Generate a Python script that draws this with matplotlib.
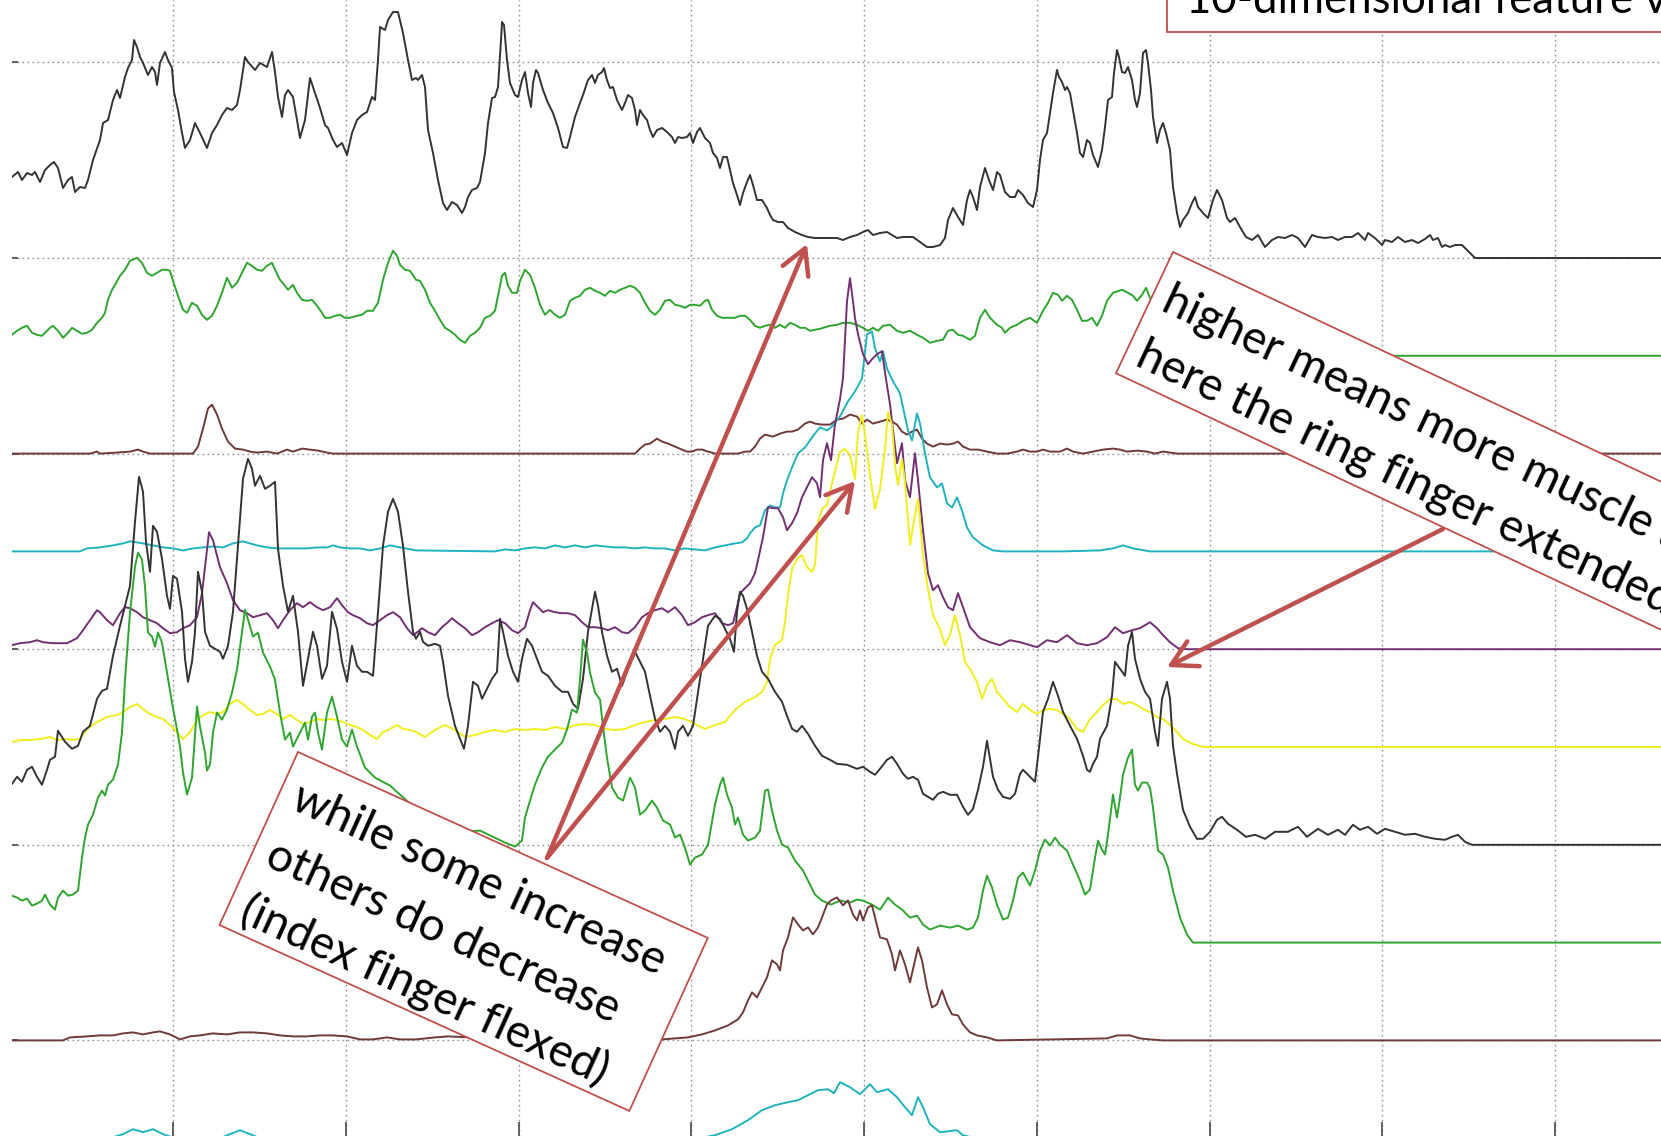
import numpy as np
import matplotlib
matplotlib.use("Agg")
import matplotlib.pyplot as plt
from matplotlib.patches import Rectangle, FancyArrowPatch

# ---- channel traces: (frame, amplitude above channel baseline) ----
BLACK_TOP = [(12,81),(18,86),(22,78),(27,85),(32,83),(35,86),(40,76),(45,88),(50,93),(54,96),(58,90),(63,70),(68,78),(72,81),(75,66),(80,71),(85,70),(88,78),(93,98),(100,118),(103,135),(108,138),(113,158),(117,168),(120,160),(125,181),(128,190),(132,198),(134,218),(137,211),(140,201),(143,195),(148,183),(152,191),(155,186),(157,173),(160,195),(165,206),(168,198),(172,190),(174,166),(178,148),(182,125),(185,110),(190,118),(195,135),(200,125),(207,110),(212,125),(217,133),(222,143),(227,150),(232,148),(237,153),(240,168),(245,201),(248,196),(255,188),(260,195),(267,191),(272,206),(275,186),(278,161),(282,141),(285,163),(288,168),(293,161),(297,138),(300,120),(305,138),(310,180),(315,165),(320,150),(325,133),(328,130),(333,118),(337,111),(342,115),(347,103),(352,125),(357,138),(362,143),(367,146),(372,161),(375,158),(378,198),(380,231),(385,228),(388,238),(393,246),(398,246),(403,225),(408,198),(412,178),(416,180),
             (418,178),(422,183),(425,171),(428,128),(433,105),(438,78),(443,55),(447,48),(452,56),(457,53),(462,45),(465,51),(468,61),(472,68),(477,70),(480,76),(485,105),(488,135),(492,160),(495,161),(498,171),(501,218),(502,236),(504,233),(507,198),(510,175),(515,163),(518,161),(522,178),(525,186),(528,165),(531,151),(533,175),(536,188),(538,185),(543,168),(548,155),(553,145),(558,130),(563,111),(567,110),(570,121),(575,141),(580,155),(583,163),(588,178),(592,183),(595,175),(598,183),(602,186),(604,190),(607,178),(610,170),(613,171),(617,158),(622,148),(625,155),(628,163),(632,160),(635,148),(637,133),(640,148),(643,143),(647,138),(650,128),(653,121),(657,128),(662,130),(667,126),(672,121),(675,115),(678,121),(682,120),(687,121),(690,125),(693,115),(697,126),(700,130),(705,120),(710,115),(713,105),(717,100),(720,90),(723,101),(727,101),(730,88),(733,75),(737,63),(740,53),(743,65),(747,76),(750,83),(753,73),(757,58),(762,58),(767,50),(770,43),(773,38),(778,36),(783,36),(788,30),(795,26),(802,23),(808,21),(815,20),(822,20),(831,20),
             (837,20),(843,18),(850,21),(857,23),(863,26),(868,28),(873,23),(880,25),(887,26),(892,23),(897,20),(903,21),(913,21),(920,16),(927,11),(933,11),(940,13),(945,20),(948,38),(953,50),(958,41),(963,33),(967,58),(970,68),(973,61),(977,48),(980,71),(985,90),(989,78),(993,68),(997,86),(1000,83),(1005,66),(1010,61),(1015,61),(1018,68),(1023,63),(1028,55),(1033,51),(1037,68),(1040,98),(1043,118),(1047,125),(1050,145),(1053,165),(1057,188),(1059,181),(1062,176),(1065,168),(1067,171),(1070,165),(1073,148),(1077,125),(1080,105),(1083,101),(1087,118),(1090,115),(1093,103),(1098,91),(1102,108),(1105,131),(1108,158),(1112,161),(1114,185),(1117,208),(1119,201),(1122,186),(1125,185),(1128,191),(1132,178),(1135,158),(1137,151),(1140,165),(1143,205),(1146,208),(1148,195),(1151,168),(1153,141),(1157,115),(1160,128),(1163,135),(1166,125),(1170,108),(1173,71),(1177,45),(1180,31),(1183,38),(1188,45),(1192,55),(1195,61),(1198,51),(1203,45),(1208,40),(1213,58),(1217,68),(1222,58),(1227,40),(1230,36),(1235,40),(1240,31),(1246,21),
             (1252,18),(1258,23),(1265,11),(1272,18),(1278,21),(1285,20),(1292,23),(1298,20),(1305,11),(1312,23),(1318,21),(1325,20),(1332,21),(1338,18),(1345,21),(1352,21),(1358,25),(1365,18),(1368,25),(1375,20),(1382,13),(1385,18),(1392,16),(1398,21),(1405,16),(1412,18),(1418,15),(1425,19),(1430,23),(1433,18),(1438,20),(1442,11),(1445,13),(1450,11),(1455,13),(1462,13),(1467,8),(1475,0),(1661,0)]

GREEN_TOP = [(12,21),(17,25),(22,28),(27,30),(32,23),(37,21),(42,20),(47,25),(50,28),(53,30),(58,25),(63,18),(68,23),(72,28),(77,25),(82,22),(87,23),(92,26),(97,33),(102,38),(105,43),(108,56),(112,66),(115,71),(120,80),(125,86),(130,95),(137,98),(142,93),(147,83),(152,80),(157,83),(162,86),(167,86),(170,85),(173,75),(178,60),(183,46),(187,43),(192,53),(197,50),(202,41),(207,36),(212,40),(217,50),(222,63),(227,78),(232,68),(237,73),(242,83),(247,93),(252,90),(257,86),(262,85),(267,90),(272,93),(275,86),(280,76),(285,70),(288,66),(293,71),(297,63),(302,56),(307,55),(312,56),(317,50),(322,43),(325,38),(330,38),(335,40),(340,41),(345,38),(350,38),(357,40),(362,41),(367,45),(373,45),(378,53),(383,76),(388,93),(393,105),(397,100),(400,91),(405,86),(410,85),(416,76),
             (420,75),(425,66),(430,53),(435,45),(440,36),(445,28),(450,25),(455,21),(460,16),(465,13),(470,20),(475,23),(480,28),(485,38),(490,40),(495,45),(498,60),(502,80),(505,83),(508,70),(512,63),(517,63),(520,75),(525,86),(530,81),(535,68),(540,51),(545,41),(550,46),(555,41),(560,38),(565,41),(570,55),(575,58),(580,60),(585,66),(590,68),(595,65),(600,63),(605,60),(610,65),(615,63),(620,66),(625,68),(630,70),(635,68),(640,63),(645,53),(650,45),(655,41),(660,46),(665,55),(670,56),(675,51),(680,50),(685,48),(690,51),(695,51),(700,50),(705,55),(708,56),(712,46),(717,40),(722,38),(728,38),(735,38),(740,40),(745,40),(750,36),(755,30),(760,28),(765,30),(770,31),(775,28),(780,31),(785,28),(790,33),(795,31),(800,28),(805,28),(810,25),(820,27),(830,30),
             (837,31),(843,33),(850,33),(857,31),(863,28),(868,25),(873,28),(878,25),(883,30),(890,31),(897,25),(903,23),(910,25),(917,21),(923,18),(930,13),(937,15),(943,16),(948,25),(953,26),(958,21),(963,20),(970,16),(975,20),(980,38),(985,46),(990,38),(997,31),(1002,28),(1005,23),(1010,28),(1017,31),(1023,35),(1030,38),(1037,33),(1043,45),(1048,53),(1053,63),(1058,61),(1062,55),(1067,60),(1072,56),(1077,46),(1082,35),(1087,35),(1092,38),(1097,30),(1102,40),(1107,55),(1113,63),(1122,66),(1128,63),(1133,60),(1137,55),(1142,61),(1146,68),(1150,58),(1160,40),(1172,22),(1185,5),(1195,0),(1661,0)]

BROWN_TOP = [(12,0),(90,0),(97,2),(100,0),(117,1),(130,2),(138,4),(143,2),(150,0),(193,0),(198,7),(203,25),(208,45),(212,49),(217,39),(222,25),(228,12),(235,5),(243,4),(250,2),(257,1),(267,2),(277,0),(287,4),(293,2),(302,5),(310,4),(318,3),(327,1),(333,0),(635,0),(640,5),(645,9),(650,10),(657,15),(662,12),(668,10),(675,7),(682,4),(687,2),(692,2),(697,4),(702,4),(708,2),(715,0),(738,0),(745,2),(750,2),(755,7),(760,15),(765,19),(773,17),(780,20),(787,22),(792,22),(798,24),(805,30),(810,32),(815,30),(822,29),(830,29),(837,34),(843,35),(850,39),(857,37),(862,30),(867,34),(873,30),(880,32),(887,34),(892,32),(897,29),(902,22),(907,19),(912,22),(917,24),(922,15),(927,10),(933,7),(940,10),(947,9),(953,10),(958,12),(963,7),(970,4),(978,4),(987,2),(997,0),(1007,0),(1017,2),(1023,4),(1030,2),(1037,2),(1043,4),(1050,2),(1060,2),(1067,5),(1073,2),(1083,0),(1093,2),(1103,4),(1113,5),(1120,4),(1127,2),(1137,3),(1147,2),(1155,0),(1163,2),(1170,1),(1177,0),(1661,0)]

CYAN_TOP = [(12,0),(80,0),(87,3),(100,4),(113,6),(123,8),(130,10),(137,9),(143,8),(153,6),(163,4),(173,3),(183,1),(193,3),(203,4),(213,5),(223,4),(233,8),(243,10),(250,8),(257,6),(267,4),(277,3),(287,3),(297,3),(307,3),(317,4),(327,4),(333,6),(340,4),(350,3),(360,3),(370,1),(380,3),(390,6),(400,4),(416,1),(495,0),(505,2),(515,1),(525,3),(535,4),(545,3),(555,6),(565,4),(575,6),(585,4),(595,6),(605,5),(615,4),(625,4),(635,3),(645,4),(655,3),(665,3),(675,1),(685,3),(695,2),(705,1),(715,4),(725,6),(735,8),(742,9),(747,13),(750,18),(755,24),(760,26),(765,41),(770,46),(775,44),(780,44),(783,58),(787,71),(792,84),(798,98),(805,104),(810,111),(815,118),(820,124),(827,121),(832,125),(840,135),(848,150),(855,160),(862,173),(867,217),(872,220),(875,203),(880,190),(883,200),(887,183),(893,170),(900,158),(903,144),(908,121),(912,111),(917,138),(920,128),(925,98),(930,74),(937,64),(942,68),(947,48),(952,44),(957,54),(962,41),(967,24),(973,14),(983,6),(993,1),(1003,0),(1063,0),(1100,1),(1113,3),(1123,6),(1133,3),(1150,0),(1661,0)]

PURPLE = [(12,4),(20,6),(30,7),(37,9),(43,7),(53,6),(67,6),(77,11),(83,19),(90,29),(97,39),(100,37),(107,29),(113,24),(120,36),(125,42),(130,41),(137,37),(143,32),(150,29),(157,26),(163,21),(170,16),(177,17),(183,21),(190,24),(197,32),(202,56),(205,82),(209,117),(213,109),(220,82),(227,66),(233,49),(240,39),(247,36),(253,32),(260,34),(267,36),(273,29),(278,21),(283,29),(290,39),(297,46),(303,42),(310,47),(317,42),(323,39),(330,42),(337,51),(342,44),(348,37),(353,34),(360,31),(367,26),(373,24),(380,29),(387,34),(393,37),(400,32),(407,21),(413,14),(416,16),
          (422,21),(428,17),(435,14),(442,22),(448,27),(452,31),(458,26),(465,21),(472,14),(478,17),(485,22),(492,26),(498,29),(505,26),(512,19),(518,16),(525,22),(530,39),(533,47),(538,42),(543,37),(548,39),(555,37),(562,36),(568,36),(575,34),(582,27),(588,22),(595,22),(602,21),(608,19),(615,22),(622,17),(628,16),(635,22),(642,32),(648,36),(655,39),(662,41),(668,37),(675,42),(682,34),(688,24),(695,27),(702,32),(708,34),(715,36),(722,26),(728,24),(733,26),(737,42),(740,56),(745,61),(750,66),(755,76),(758,89),(763,112),(768,142),(773,141),(778,141),(783,132),(787,119),(792,126),(797,136),(802,152),(807,162),(812,172),(817,166),(820,152),(823,189),(827,206),(831,189),(835,225),(840,250),(843,271),(847,348),(850,371),(853,348),(855,331),(858,315),(863,295),(868,285),(872,290),(877,295),(882,298),(886,270),(890,245),(893,219),(897,186),(902,206),(905,169),(910,152),(915,196),(918,169),(923,119),(928,76),(933,59),(938,64),(943,52),(948,42),(953,39),(958,56),(963,42),(970,22),(980,11),(990,7),(1000,4),(1010,9),(1020,7),(1030,4),(1037,2),(1047,9),(1057,7),(1067,14),(1077,6),(1087,4),(1097,6),(1107,12),(1115,22),(1123,16),(1132,19),(1140,21),(1150,27),(1157,21),(1163,14),(1170,7),(1178,1),(1187,0),(1661,0)]

YELLOW = [(12,5),(20,7),(30,7),(40,8),(50,10),(57,7),(67,8),(73,7),(80,8),(87,18),(97,25),(107,30),(117,32),(123,35),(130,40),(137,43),(143,38),(150,33),(157,30),(163,28),(170,22),(177,15),(183,8),(190,15),(197,27),(203,32),(210,35),(217,33),(223,35),(230,43),(237,47),(243,43),(250,37),(257,32),(263,33),(270,37),(277,33),(283,28),(290,32),(297,27),(303,23),(310,25),(317,28),(323,27),(330,28),(337,27),(343,25),(350,22),(357,20),(363,17),(370,12),(377,8),(383,15),(390,18),(397,22),(403,18),(410,17),(416,15),
          (425,10),(435,17),(445,22),(455,17),(465,10),(475,12),(485,15),(495,17),(505,15),(515,18),(525,17),(535,18),(545,17),(555,20),(565,18),(575,22),(585,23),(595,22),(605,18),(615,17),(625,18),(635,22),(645,25),(655,27),(665,28),(675,30),(685,28),(695,23),(705,18),(715,22),(725,25),(735,37),(745,45),(755,50),(762,55),(767,65),(770,88),(775,102),(782,107),(785,125),(788,152),(792,178),(797,188),(802,192),(807,180),(812,175),(815,182),(818,225),(822,238),(827,242),(833,268),(840,295),(845,298),(850,292),(855,268),(858,315),(862,332),(865,312),(870,272),(875,238),(880,258),(885,298),(888,335),(892,322),(895,282),(898,262),(902,288),(905,265),(910,202),(915,232),(918,248),(923,192),(928,158),(933,132),(940,118),(945,102),(950,112),(955,132),(960,112),(965,85),(970,78),(977,65),(982,48),(987,62),(992,68),(997,55),(1003,48),(1010,40),(1017,35),(1023,43),(1030,37),(1037,33),(1043,37),(1050,38),(1057,37),(1063,33),(1070,28),(1077,18),(1083,15),(1090,28),(1097,35),(1103,42),(1110,48),(1117,48),(1123,43),(1130,45),(1137,42),(1143,38),(1150,35),(1157,30),(1163,28),(1170,22),(1177,15),(1183,8),(1193,3),(1203,0),(1661,0)]

BLACK_LOW = [(12,61),(17,68),(22,63),(27,75),(32,78),(37,68),(42,60),(47,75),(50,85),(55,88),(58,114),(65,103),(72,96),(78,99),(83,113),(90,119),(97,146),(102,154),(107,156),(113,189),(120,219),(125,239),(130,259),(135,323),(139,368),(143,353),(146,303),(150,273),(153,319),(157,313),(162,286),(167,249),(170,236),(173,269),(177,266),(182,233),(185,186),(188,163),(192,183),(195,213),(198,273),(202,253),(205,213),(210,199),(215,196),(220,193),(223,186),(228,199),(233,233),(238,299),(243,366),(248,386),(252,376),(255,359),(260,369),(265,356),(270,359),(275,363),(278,296),(283,259),(288,233),(293,249),(298,213),(303,159),(308,186),(313,213),(317,199),(322,166),(327,179),(332,233),(337,216),(342,183),(347,163),(352,199),(357,179),(362,173),(367,173),(373,169),(378,233),(383,299),(388,333),(393,346),(398,333),(403,299),(408,253),(413,213),(416,206),
             (420,213),(423,203),(428,199),(435,201),(440,199),(443,183),(448,149),(455,119),(460,106),(464,96),(468,119),(473,163),(478,159),(482,146),(487,156),(492,166),(497,173),(500,226),(503,213),(508,189),(513,173),(518,163),(522,186),(527,206),(532,199),(537,186),(542,173),(548,169),(555,159),(562,153),(568,153),(573,141),(578,136),(583,166),(588,213),(595,253),(598,239),(602,213),(607,189),(612,173),(617,176),(622,159),(628,176),(635,193),(640,183),(645,173),(650,149),(655,126),(660,113),(665,119),(670,113),(675,96),(678,113),(683,119),(688,109),(693,119),(697,146),(702,179),(708,219),(715,229),(720,226),(725,216),(730,206),(734,193),(737,233),(740,253),(743,249),(747,236),(752,213),(757,189),(762,173),(768,166),(775,153),(782,143),(787,129),(792,116),(797,113),(802,119),(808,111),(815,99),(822,89),(830,85),(837,81),(847,80),(857,76),(863,78),(870,73),(875,70),(880,76),(887,85),(892,88),(897,81),(903,71),(908,66),(913,68),(918,65),(923,51),(928,48),(933,45),(938,51),(943,53),(950,50),(957,50),(963,38),(968,30),(973,36),(978,55),(983,78),(987,104),(993,68),(998,55),(1003,48),(1010,46),(1015,51),(1020,71),(1023,75),(1028,70),(1035,63),(1038,88),(1043,133),(1048,146),(1053,163),(1058,149),(1063,133),(1070,119),(1077,106),(1083,89),(1087,75),(1090,73),(1093,81),(1097,88),(1100,106),(1107,119),(1112,149),(1115,183),(1120,176),(1125,169),(1128,199),(1132,213),(1135,186),(1140,166),(1145,153),(1150,146),(1155,113),(1158,99),(1162,146),(1167,163),(1170,146),(1173,99),(1177,71),(1183,35),(1190,18),(1197,6),(1203,6),(1210,13),(1217,25),(1222,28),(1228,21),(1237,15),(1246,8),(1255,10),(1265,6),(1275,13),(1288,13),(1298,18),(1307,8),(1318,16),(1328,10),(1338,15),(1345,10),(1353,20),(1360,15),(1368,18),(1377,11),(1385,16),(1395,13),(1405,10),(1415,11),(1425,8),(1435,6),(1445,5),(1452,8),(1458,10),(1465,3),(1472,0),(1661,0)]

GREEN_LOW = [(12,47),(17,45),(22,42),(27,44),(32,37),(37,39),(42,42),(45,48),(50,38),(55,33),(58,45),(63,52),(68,47),(73,48),(78,52),(82,85),(85,105),(88,118),(93,128),(98,145),(102,152),(105,147),(108,158),(113,163),(118,178),(122,210),(125,263),(130,330),(135,376),(138,390),(142,383),(145,356),(148,310),(152,306),(155,296),(158,310),(162,300),(167,270),(172,240),(177,213),(180,196),(183,170),(187,148),(192,165),(197,236),(200,216),(205,190),(207,172),(210,178),(213,210),(217,230),(222,223),(227,233),(232,250),(237,273),(242,310),(245,333),(248,323),(253,306),(258,310),(263,290),(270,276),(275,263),(280,230),(285,203),(290,210),(293,196),(300,210),(305,220),(308,203),(312,226),(315,230),(318,210),(322,193),(327,230),(332,246),(337,226),(342,203),(347,196),(352,213),(357,196),(365,175),(375,165),(390,157),(420,130),(450,110),(480,112),(505,100),(515,96),(522,102),(525,125),(530,142),(535,158),(542,175),(548,186),(555,193),(562,200),(567,213),(572,233),(577,230),(580,263),(583,303),(587,290),(590,270),(595,250),(600,243),(603,216),(607,185),(612,155),(618,145),(623,142),(630,165),(635,155),(640,128),(645,132),(652,142),(657,135),(663,122),(670,118),(675,105),(680,108),(685,95),(690,78),(695,85),(702,88),(708,98),(715,138),(720,158),(723,165),(727,148),(732,135),(735,118),(738,125),(743,108),(748,102),(755,105),(760,112),(765,152),(768,153),(772,132),(777,112),(782,98),(788,95),(795,82),(803,72),(810,58),(815,48),(822,42),(831,38),(840,42),(850,40),(857,43),(863,42),(872,38),(880,33),(888,45),(895,38),(902,33),(910,25),(917,27),(923,18),(930,13),(940,17),(950,15),(958,17),(967,13),(973,15),(978,25),(983,52),(987,67),(992,55),(997,38),(1003,23),(1008,25),(1013,42),(1018,65),(1023,70),(1030,57),(1035,72),(1040,92),(1045,103),(1050,97),(1055,105),(1060,98),(1067,92),(1073,78),(1080,62),(1085,48),(1090,53),(1095,85),(1098,102),(1102,93),(1105,88),(1108,108),(1113,148),(1117,125),(1120,145),(1123,168),(1128,185),(1132,193),(1135,158),(1138,152),(1142,160),(1147,160),(1150,155),(1153,135),(1158,92),(1163,88),(1168,75),(1173,52),(1180,25),(1187,8),(1193,0),(1661,0)]

BROWN_LOW = [(12,0),(63,0),(70,3),(87,4),(100,5),(113,5),(123,7),(133,8),(143,6),(153,8),(160,9),(170,6),(180,1),(190,4),(200,5),(213,7),(227,6),(240,8),(253,8),(267,7),(280,5),(293,4),(307,4),(320,5),(333,5),(347,4),(360,1),(373,1),(387,3),(400,1),(416,1),(435,3),(448,4),(470,3),(500,4),(540,3),(580,2),(620,2),(662,1),(675,2),(688,3),(702,6),(715,10),(728,15),(738,21),(743,28),(748,40),(752,48),(757,43),(762,53),(767,63),(772,80),(777,76),(780,70),(783,90),(788,103),(793,123),(798,116),(803,110),(808,113),(813,106),(818,113),(822,123),(827,136),(831,140),(837,143),(843,135),(848,140),(853,126),(857,120),(860,130),(863,120),(868,133),(872,135),(875,123),(880,103),(887,101),(892,86),(895,70),(900,90),(905,76),(910,58),(915,80),(918,93),(922,80),(927,53),(932,33),(937,36),(942,50),(947,36),(952,26),(958,25),(963,16),(970,8),(977,5),(987,3),(997,0),(1107,2),(1117,5),(1130,5),(1140,2),(1150,1),(1163,0),(1661,0)]

CYAN_LOW = [(12,0),(110,0),(123,4),(133,9),(143,6),(153,9),(163,4),(175,0),(220,0),(230,4),(240,8),(250,4),(260,0),(700,0),(715,3),(732,9),(748,18),(762,28),(775,33),(788,36),(798,38),(808,43),(818,48),(828,49),(834,45),(840,56),(850,51),(860,44),(870,54),(877,46),(888,49),(897,41),(905,31),(912,23),(918,41),(923,31),(930,14),(940,6),(957,8),(963,3),(975,0),(1661,0)]

CHANNELS = [BLACK_TOP, GREEN_TOP, BROWN_TOP, CYAN_TOP, PURPLE, YELLOW,
            BLACK_LOW, GREEN_LOW, BROWN_LOW, CYAN_LOW]
COLORS = ['#333333', '#2ea52e', '#6e3a3a', '#1fb3bd', '#722f72', '#f0ee1c',
          '#333333', '#2ea52e', '#6e3a3a', '#1fb3bd']

SPACING = 97.8          # vertical offset between channels
GRID_STEP = 172.75      # frames per grid division
RED = '#c0504d'
FONT = ['Lato', 'DejaVu Sans']

W, H = 1661, 1136
fig = plt.figure(figsize=(W / 100, H / 100), dpi=100)
fig.patch.set_facecolor('white')

ax = fig.add_axes([12 / W, 0, 1 - 12 / W, 1])
for k, (trace, col) in enumerate(zip(CHANNELS, COLORS)):
    x, amp = np.array(trace, dtype=float).T
    ax.plot(x, amp - k * SPACING, color=col, lw=1.4, solid_joinstyle='round')

ax.set_xlim(12, W)
ax.set_ylim(258 - H, 258)
ax.set_xticks(173 + GRID_STEP * np.arange(9))
ax.set_yticks(2 * SPACING * np.arange(1, -5, -1))
ax.grid(True, color='#909090', linestyle=(0, (1.2, 2.4)), linewidth=1.0)
ax.tick_params(axis='x', direction='in', length=10, width=1.3, color='#555555', labelbottom=False)
ax.tick_params(axis='y', direction='in', length=4, width=1.3, color='#555555', labelleft=False)
for s in ax.spines.values():
    s.set_visible(False)

# annotation layer in pixel coordinates (y down)
ov = fig.add_axes([0, 0, 1, 1])
ov.set_xlim(0, W)
ov.set_ylim(H, 0)
ov.axis('off')


def callout(corner, width, height, angle, lines, pad, first_base, line_gap, size):
    ov.add_patch(Rectangle(corner, width, height, angle=angle, facecolor='white',
                           edgecolor=RED, lw=1.3, zorder=3))
    a = np.radians(angle)
    u = np.array([np.cos(a), np.sin(a)])
    v = np.array([-np.sin(a), np.cos(a)])
    for i, line in enumerate(lines):
        p = np.array(corner) + pad * u + (first_base + i * line_gap) * v
        ov.text(p[0], p[1], line, rotation=-angle, rotation_mode='anchor',
                ha='left', va='baseline', fontsize=size, family=FONT, zorder=4)


SIZE = 33
callout((1167, -60), 700, 92, 0, ['10-dimensional feature vector'], 19, 73, 0, 31.5)
callout((1173, 252), 800, 134, 25.2,
        ['higher means more muscle activity', 'here the ring finger extended'],
        12, 58, 61, SIZE)
callout((298, 752), 450, 190, 24.4,
        ['while some increase', 'others do decrease', '(index finger flexed)'],
        15, 55, 62, SIZE)

for start, end in [((547, 858), (807, 244)), ((547, 858), (855, 481)),
                   ((1443, 529), (1167, 667))]:
    ov.add_patch(FancyArrowPatch(start, end, arrowstyle='->,head_length=0.45,head_width=0.25',
                                 mutation_scale=40, lw=3.2, color=RED,
                                 shrinkA=0, shrinkB=0, zorder=5))

fig.savefig('out.png', dpi=100, facecolor='white')
